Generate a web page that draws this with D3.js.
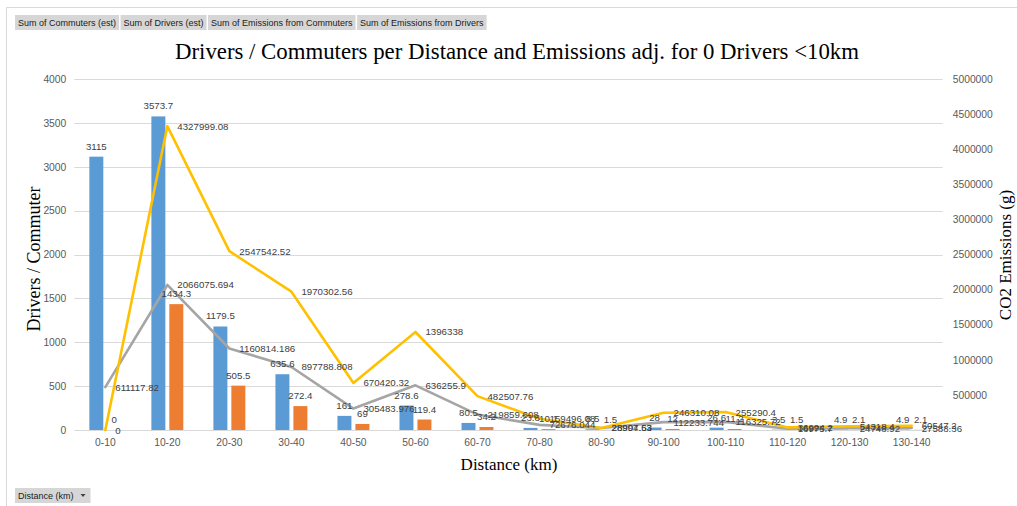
<!DOCTYPE html>
<html>
<head>
<meta charset="utf-8">
<script src="https://cdn.jsdelivr.net/npm/d3@7"></script>
<style>
  body { margin: 0; background: #fff; }
  svg { display: block; }
  text { font-family: "Liberation Sans", Arial, sans-serif; }
</style>
</head>
<body>
<svg id="chart" width="1017" height="506"></svg>
<script>
// Distance bands
const categories = ["0-10", "10-20", "20-30", "30-40", "40-50", "50-60", "60-70",
                    "70-80", "80-90", "90-100", "100-110", "110-120", "120-130", "130-140"];
// Sum of Commuters (est)
const commuters = [3115, 3573.7, 1179.5, 635.6, 161, 278.6, 80.5, 23.8, 8.5, 28, 26.6, 3.5, 4.9, 4.9];
// Sum of Drivers (est)
const drivers = [0, 1434.3, 505.5, 272.4, 69, 119.4, 34.2, 10.1, 1.5, 12, 11.2, 1.5, 2.1, 2.1];
// Sum of Emissions from Commuters (g)
const emissionsCommuters = [611117.82, 2066075.694, 1160814.186, 897788.808, 305483.976, 636255.9,
                            219859.608, 72676.044, 28997.53, 112233.744, 116325.72, 16975.7, 24748.92, 27588.36];
// Sum of Emissions from Drivers (g)
const emissionsDrivers = [0, 4327999.08, 2547542.52, 1970302.56, 670420.32, 1396338,
                          482507.76, 159496.08, 28904.63, 246310.08, 255290.4, 36994.2, 54318.4, 60547.2];

const leftTicks = [0, 500, 1000, 1500, 2000, 2500, 3000, 3500, 4000];
const rightTicks = [500000, 1000000, 1500000, 2000000, 2500000, 3000000, 3500000, 4000000, 4500000, 5000000];
const fieldButtons = ["Sum of Commuters (est)", "Sum of Drivers (est)",
                      "Sum of Emissions from Commuters", "Sum of Emissions from Drivers"];
const axisButton = "Distance (km)";

const titleText = "Drivers / Commuters per Distance and Emissions adj. for 0 Drivers <10km";
const leftTitle = "Drivers / Commuter";
const rightTitle = "CO2 Emissions (g)";
const xTitle = "Distance (km)";

const colors = { commuters: "#5B9BD5", drivers: "#ED7D31", emC: "#A5A5A5", emD: "#FFC000" };
const labelColor = "#404040";
const tickColor = "#595959";
const serif = '"Liberation Serif", "Times New Roman", serif';
const sans = '"Liberation Sans", Arial, sans-serif';

const svg = d3.select("#chart");
const plot = { left: 74.3, right: 942.7, top: 79, bottom: 430 };

// outer frame of the pivot chart
svg.append("path")
  .attr("d", "M6.5,506 V7.5 H1017")
  .attr("fill", "none").attr("stroke", "#d9d9d9").attr("stroke-width", 1);

// scales
const x = d3.scaleBand().domain(categories)
  .range([plot.left, plot.right]).paddingInner(0.485).paddingOuter(0.2425);
const xSeries = d3.scaleBand().domain(["commuters", "drivers"])
  .range([0, x.bandwidth()]).paddingInner(0.222);
const yL = d3.scaleLinear().domain([0, 4000]).range([plot.bottom, plot.top]);
const yR = d3.scaleLinear().domain([0, 5000000]).range([plot.bottom, plot.top]);
const cx = c => x(c) + x.bandwidth() / 2;

// gridlines
svg.append("g").selectAll("line").data(leftTicks).join("line")
  .attr("x1", plot.left).attr("x2", plot.right)
  .attr("y1", d => Math.round(yL(d)) + 0.5).attr("y2", d => Math.round(yL(d)) + 0.5)
  .attr("stroke", "#d9d9d9").attr("stroke-width", 1);

// left axis
const gL = svg.append("g").attr("transform", `translate(${plot.left},0)`)
  .call(d3.axisLeft(yL).tickValues(leftTicks).tickFormat(d3.format("d")).tickSize(0).tickPadding(8));
gL.select(".domain").remove();
gL.selectAll("text").attr("font-size", 10.3).attr("fill", tickColor).style("font-family", sans);

// right axis
const gR = svg.append("g").attr("transform", `translate(${plot.right},0)`)
  .call(d3.axisRight(yR).tickValues(rightTicks).tickFormat(d3.format("d")).tickSize(0).tickPadding(10));
gR.select(".domain").remove();
gR.selectAll("text").attr("font-size", 10.3).attr("fill", tickColor).style("font-family", sans);

// bottom axis
const gX = svg.append("g").attr("transform", `translate(0,${plot.bottom})`)
  .call(d3.axisBottom(x).tickSize(0).tickPadding(9));
gX.select(".domain").remove();
gX.selectAll("text").attr("font-size", 10.3).attr("fill", tickColor).style("font-family", sans);

// bars
const barSeries = [
  { key: "commuters", values: commuters },
  { key: "drivers", values: drivers }
];
barSeries.forEach(s => {
  svg.append("g").selectAll("rect").data(categories).join("rect")
    .attr("x", (c) => x(c) + xSeries(s.key))
    .attr("width", xSeries.bandwidth())
    .attr("y", (c, i) => yL(s.values[i]))
    .attr("height", (c, i) => plot.bottom - yL(s.values[i]))
    .attr("fill", colors[s.key]);
});

// emission lines
const lineSeries = [
  { key: "emC", values: emissionsCommuters },
  { key: "emD", values: emissionsDrivers }
];
const line = d3.line().x(d => cx(d.c)).y(d => yR(d.v));
lineSeries.forEach(s => {
  svg.append("path")
    .datum(categories.map((c, i) => ({ c, v: s.values[i] })))
    .attr("d", line)
    .attr("fill", "none")
    .attr("stroke", colors[s.key])
    .attr("stroke-width", 2.6)
    .attr("stroke-linejoin", "round")
    .attr("stroke-linecap", "round");
});

// data labels: bars above their top, lines to the right of each point
const labels = svg.append("g").attr("font-size", 9.7).attr("fill", labelColor);
barSeries.forEach(s => {
  labels.append("g").selectAll("text").data(categories).join("text")
    .attr("x", c => x(c) + xSeries(s.key) + xSeries.bandwidth() / 2)
    .attr("y", (c, i) => yL(s.values[i]) - 7)
    .attr("text-anchor", "middle")
    .text((c, i) => String(s.values[i]));
});
lineSeries.forEach(s => {
  labels.append("g").selectAll("text").data(categories).join("text")
    .attr("x", c => cx(c) + 10)
    .attr("y", (c, i) => yR(s.values[i]) + 3.5)
    .attr("text-anchor", "start")
    .text((c, i) => String(s.values[i]));
});

// titles
svg.append("text").attr("x", 517).attr("y", 59).attr("text-anchor", "middle")
  .style("font-family", serif).attr("font-size", 22.8).attr("fill", "#000").text(titleText);
svg.append("text").attr("transform", "translate(40,259) rotate(-90)").attr("text-anchor", "middle")
  .style("font-family", serif).attr("font-size", 18).attr("fill", "#000").text(leftTitle);
svg.append("text").attr("transform", "translate(1011,255) rotate(-90)").attr("text-anchor", "middle")
  .style("font-family", serif).attr("font-size", 17).attr("fill", "#000").text(rightTitle);
svg.append("text").attr("x", 509).attr("y", 470).attr("text-anchor", "middle")
  .style("font-family", serif).attr("font-size", 17).attr("fill", "#000").text(xTitle);

// pivot field buttons
const btnG = svg.append("g");
let bx = 15;
fieldButtons.forEach(name => {
  const g = btnG.append("g");
  const rect = g.append("rect").attr("y", 15).attr("height", 15).attr("fill", "#d6d6d6");
  const t = g.append("text").attr("x", bx + 3).attr("y", 26).attr("font-size", 9)
    .attr("fill", "#1a1a1a").text(name);
  const w = t.node().getComputedTextLength() + 6;
  rect.attr("x", bx).attr("width", w);
  bx += w + 1.5;
});

// axis field button
const ab = svg.append("g");
const abRect = ab.append("rect").attr("x", 15).attr("y", 488).attr("height", 15).attr("fill", "#d6d6d6");
const abText = ab.append("text").attr("x", 18).attr("y", 499).attr("font-size", 9)
  .attr("fill", "#1a1a1a").text(axisButton);
const abw = abText.node().getComputedTextLength();
ab.append("path")
  .attr("d", `M${18 + abw + 7},494 h5 l-2.5,3 z`).attr("fill", "#404040");
abRect.attr("width", abw + 20);
</script>
</body>
</html>
